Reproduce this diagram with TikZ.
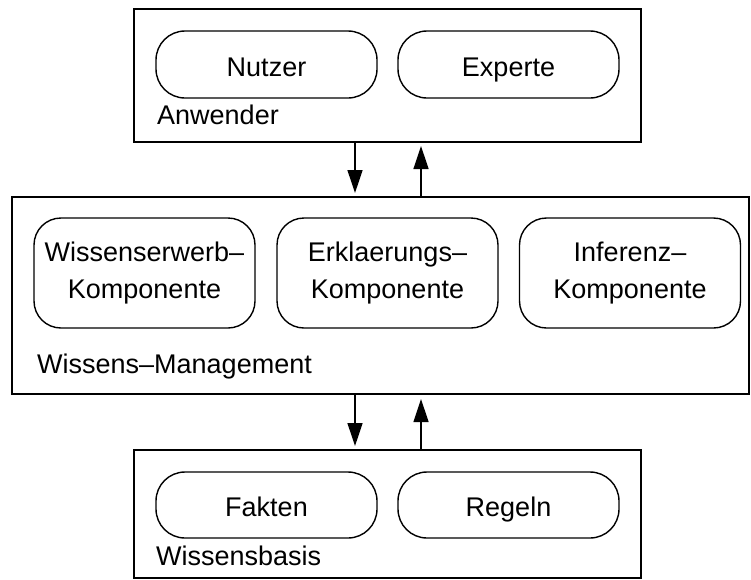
\documentclass[tikz,border=0pt]{standalone}
\usepackage{fontspec}
\setmainfont{Liberation Sans}
\usetikzlibrary{arrows.meta}
\begin{document}
\begin{tikzpicture}[x=1pt,y=-1pt,
  txt/.style={font=\fontsize{27}{37}\selectfont, text=black},
  frame/.style={draw=black, line width=1.8pt, inner sep=0pt, outer sep=0pt},
  rbox/.style={draw=black, line width=1.4pt, inner sep=0pt, outer sep=0pt, minimum width=221pt, txt, align=center},
  sbox/.style={rbox, rounded corners=29pt, minimum height=67pt, text height=23pt, text depth=0pt},
  mbox/.style={rbox, rounded corners=27pt, minimum height=110pt},
  lbl/.style={txt, anchor=base west, inner sep=0pt},
  arr/.style={draw=black, line width=1.3pt, -{Triangle[length=23pt,width=15pt]}}
]
\useasboundingbox (0,0) rectangle (751,579);

% frames
\node[frame, minimum width=507pt, minimum height=133pt] (anw) at (387.5,75.5) {};
\node[frame, minimum width=737pt, minimum height=197pt] (wm) at (380.5,295.5) {};
\node[frame, minimum width=507pt, minimum height=128pt] (wb) at (387.5,514) {};

% top boxes
\node[sbox] (nutzer) at (266.5,64.5) {Nutzer};
\node[sbox] (experte) at (508.5,64.5) {Experte};
\node[lbl] (lanw) at (157,124) {Anwender};

% middle boxes
\node[mbox] (erwerb) at (144.5,273) {Wissenserwerb–\\Komponente};
\node[mbox] (erkl) at (387.5,273) {Erklaerungs–\\Komponente};
\node[mbox] (inf) at (630,273) {Inferenz–\\Komponente};
\node[lbl] (lwm) at (37,373) {Wissens–Management};

% bottom boxes
\node[sbox, minimum height=66pt] (fakten) at (266.5,505) {Fakten};
\node[sbox, minimum height=66pt] (regeln) at (508.5,505) {Regeln};
\node[lbl] (lwb) at (156,565) {Wissensbasis};

% arrows
\coordinate (xa) at (355,0);
\coordinate (xb) at (421,0);
\draw[arr, shorten >=4pt] (anw.south -| xa) -- (wm.north -| xa);
\draw[arr, shorten >=4pt] (wm.north -| xb) -- (anw.south -| xb);
\draw[arr, shorten >=4pt] (wm.south -| xa) -- (wb.north -| xa);
\draw[arr, shorten >=5pt] (wb.north -| xb) -- (wm.south -| xb);
\end{tikzpicture}
\end{document}
